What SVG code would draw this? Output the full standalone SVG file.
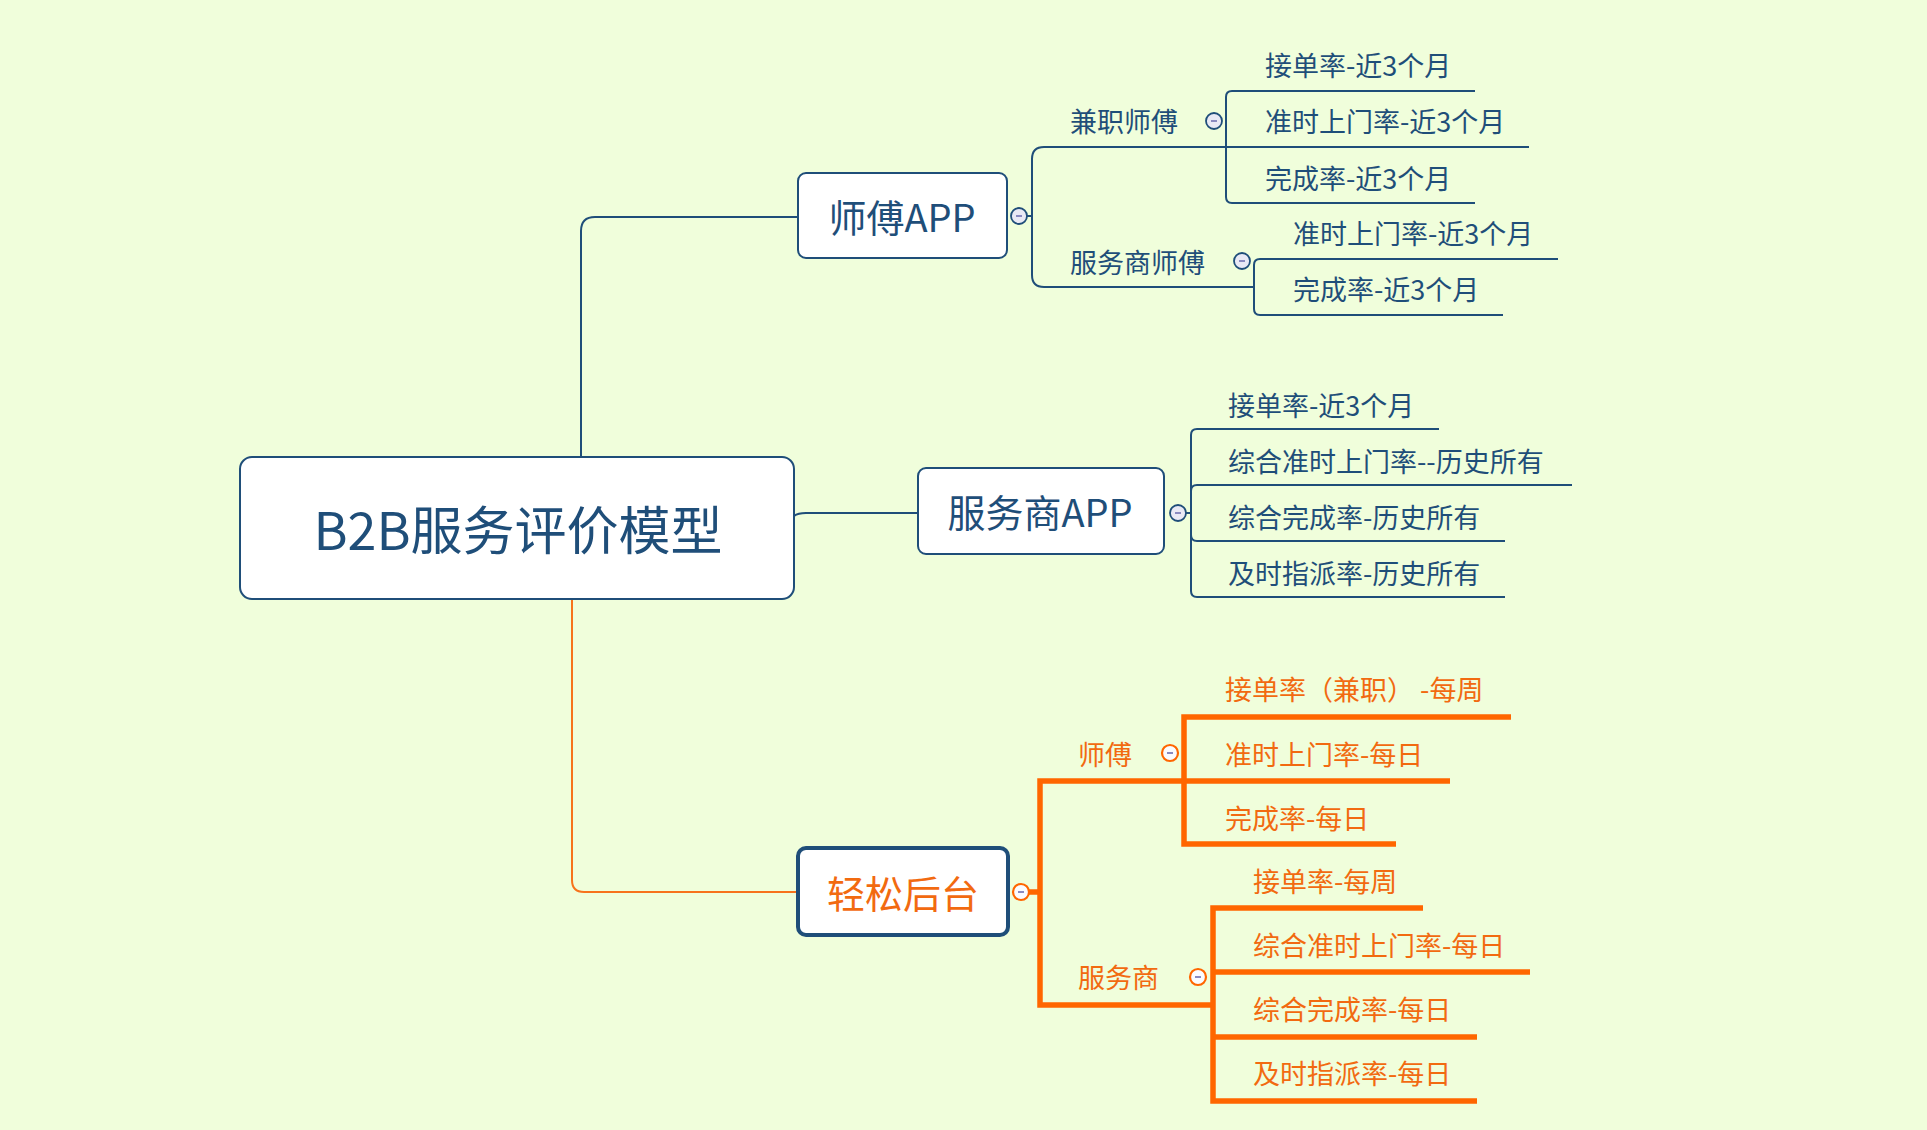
<svg xmlns="http://www.w3.org/2000/svg" width="1927" height="1130" viewBox="0 0 1927 1130">
<style>
.bg{fill:#f0fedb}
.box{fill:#ffffff;stroke:#1f4e79;stroke-width:2}
.boxo{fill:#ffffff;stroke:#1f4e79;stroke-width:4}
.t{font-family:"Noto Sans CJK SC","Noto Sans",sans-serif}
.tb{fill:#1f4e79}
.to{fill:#f26a10}
.leaf{font-size:27px}
.big{font-size:38px}
.cb{fill:none;stroke:#1f4e79;stroke-width:2}
.co{fill:none;stroke:#ff6600;stroke-width:5.5;stroke-linejoin:miter}
.cot{fill:none;stroke:#f7731c;stroke-width:2}
.ccb{fill:#e9e9f5;stroke:#1f4e79;stroke-width:1.8}
.cco{fill:#fbfbff;stroke:#ff6600;stroke-width:2.2}
.minus{stroke:#8a8ac0;stroke-width:2}
</style>
<rect class="bg" x="0" y="0" width="1927" height="1130"/>
<g id="connectors">
<path class="cb" d="M581 457 V231 Q581 217 595 217 H798"/>
<path class="cb" d="M794 516 Q798 513 806 513 H918"/>
<path class="cb" d="M1027 216 H1032"/>
<path class="cb" d="M1032 216 V159 Q1032 147 1044 147 H1226"/>
<path class="cb" d="M1032 216 V275 Q1032 287 1044 287 H1254"/>
<path class="cb" d="M1226 147 V97 Q1226 91 1232 91 H1475"/>
<path class="cb" d="M1226 147 H1529"/>
<path class="cb" d="M1226 147 V197 Q1226 203 1232 203 H1475"/>
<path class="cb" d="M1254 287 V265 Q1254 259 1260 259 H1558"/>
<path class="cb" d="M1254 287 V309 Q1254 315 1260 315 H1503"/>
<path class="cb" d="M1186 513 H1191"/>
<path class="cb" d="M1191 513 V435 Q1191 429 1197 429 H1439"/>
<path class="cb" d="M1191 513 V491 Q1191 485 1197 485 H1572"/>
<path class="cb" d="M1191 513 V535 Q1191 541 1197 541 H1505"/>
<path class="cb" d="M1191 513 V591 Q1191 597 1197 597 H1505"/>
<path class="cot" d="M572 599 V880 Q572 892 584 892 H798"/>
<path class="co" d="M1029 892 H1040"/>
<path class="co" d="M1184 781 H1040 V1005 H1213"/>
<path class="co" d="M1511 717 H1184 V844 H1396"/>
<path class="co" d="M1184 781 H1450"/>
<path class="co" d="M1423 908 H1213 V1101 H1477"/>
<path class="co" d="M1213 972 H1530"/>
<path class="co" d="M1213 1037 H1477"/>
</g>
<g id="root">
<rect class="box" x="240" y="457" width="554" height="142" rx="12"/>
<text class="t tb" x="518" y="550" font-size="52" text-anchor="middle">B2B服务评价模型</text>
</g>
<g id="shifu-app">
<rect class="box" x="798" y="173" width="209" height="85" rx="8"/>
<text class="t tb big" x="902" y="232" text-anchor="middle">师傅APP</text>
<circle class="ccb" cx="1019" cy="216" r="8"/><line class="minus" x1="1016" y1="216" x2="1022" y2="216"/>
</g>
<g id="jianzhi-shifu">
<text class="t tb leaf" x="1070" y="132">兼职师傅</text>
<circle class="ccb" cx="1214" cy="121" r="8"/><line class="minus" x1="1211" y1="121" x2="1217" y2="121"/>
</g>
<g id="jz-leaf1"><text class="t tb leaf" x="1265" y="76">接单率-近3个月</text></g>
<g id="jz-leaf2"><text class="t tb leaf" x="1265" y="132">准时上门率-近3个月</text></g>
<g id="jz-leaf3"><text class="t tb leaf" x="1265" y="189">完成率-近3个月</text></g>
<g id="fws-shifu">
<text class="t tb leaf" x="1070" y="273">服务商师傅</text>
<circle class="ccb" cx="1242" cy="261" r="8"/><line class="minus" x1="1239" y1="261" x2="1245" y2="261"/>
</g>
<g id="fs-leaf1"><text class="t tb leaf" x="1293" y="244">准时上门率-近3个月</text></g>
<g id="fs-leaf2"><text class="t tb leaf" x="1293" y="300">完成率-近3个月</text></g>
<g id="fws-app">
<rect class="box" x="918" y="468" width="246" height="86" rx="8"/>
<text class="t tb big" x="1040" y="527" text-anchor="middle">服务商APP</text>
<circle class="ccb" cx="1178" cy="513" r="8"/><line class="minus" x1="1175" y1="513" x2="1181" y2="513"/>
</g>
<g id="fa-leaf1"><text class="t tb leaf" x="1228" y="416">接单率-近3个月</text></g>
<g id="fa-leaf2"><text class="t tb leaf" x="1228" y="472">综合准时上门率--历史所有</text></g>
<g id="fa-leaf3"><text class="t tb leaf" x="1228" y="528">综合完成率-历史所有</text></g>
<g id="fa-leaf4"><text class="t tb leaf" x="1228" y="584">及时指派率-历史所有</text></g>
<g id="qingsong">
<rect class="boxo" x="798" y="848" width="210" height="87" rx="8"/>
<text class="t to big" x="903" y="908" text-anchor="middle">轻松后台</text>
<circle class="cco" cx="1021" cy="892" r="8"/><line class="minus" x1="1018" y1="892" x2="1024" y2="892"/>
</g>
<g id="qs-shifu">
<text class="t to leaf" x="1078" y="765">师傅</text>
<circle class="cco" cx="1170" cy="753" r="8"/><line class="minus" x1="1167" y1="753" x2="1173" y2="753"/>
</g>
<g id="qs-leaf1"><text class="t to leaf" x="1225" y="700">接单率（兼职） -每周</text></g>
<g id="qs-leaf2"><text class="t to leaf" x="1225" y="765">准时上门率-每日</text></g>
<g id="qs-leaf3"><text class="t to leaf" x="1225" y="829">完成率-每日</text></g>
<g id="qs-fws">
<text class="t to leaf" x="1078" y="988">服务商</text>
<circle class="cco" cx="1198" cy="977" r="8"/><line class="minus" x1="1195" y1="977" x2="1201" y2="977"/>
</g>
<g id="qf-leaf1"><text class="t to leaf" x="1253" y="892">接单率-每周</text></g>
<g id="qf-leaf2"><text class="t to leaf" x="1253" y="956">综合准时上门率-每日</text></g>
<g id="qf-leaf3"><text class="t to leaf" x="1253" y="1020">综合完成率-每日</text></g>
<g id="qf-leaf4"><text class="t to leaf" x="1253" y="1084">及时指派率-每日</text></g>
</svg>
